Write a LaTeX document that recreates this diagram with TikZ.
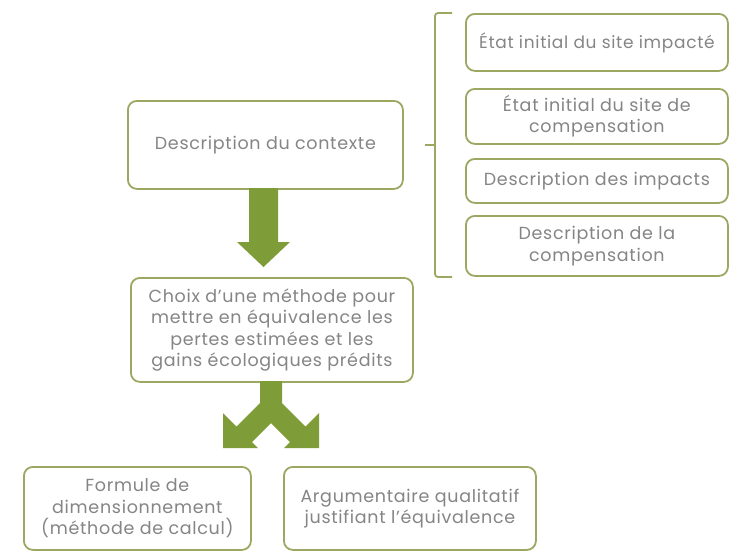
\documentclass[tikz,border=0pt]{standalone}
\usepackage{fontspec}
\setmainfont{Poppins}[LetterSpace=4]
\begin{document}
\begin{tikzpicture}[x=1pt,y=-1pt]
\definecolor{boxline}{HTML}{9AA862}
\definecolor{arrowfill}{HTML}{7E9D38}
\definecolor{txt}{HTML}{858585}
\tikzset{
  card/.style={draw=boxline, line width=1.8pt, rounded corners=9pt, fill=white,
    text=txt, align=center, font=\fontsize{17.5}{21.5}\selectfont, inner sep=0pt, anchor=north west},
  smallcard/.style={card, font=\fontsize{17}{21.5}\selectfont},
  bigarrow/.style={fill=arrowfill, draw=none}
}
\useasboundingbox (0,0) rectangle (729,552);
\fill[white] (0,0) rectangle (729,552);

% main boxes
\node[card, minimum width=275pt, minimum height=88pt] (ctx) at (127,100) {Description du contexte};
\node[card, minimum width=282pt, minimum height=104pt] (choix) at (130,277)
  {Choix d'une méthode pour\\mettre en équivalence les\\pertes estimées et les\\gains écologiques prédits};
\node[card, minimum width=227pt, minimum height=83pt] (formule) at (23,466)
  {Formule de\\dimensionnement\\(méthode de calcul)};
\node[card, minimum width=252pt, minimum height=83pt] (argu) at (283,466)
  {Argumentaire qualitatif\\justifiant l'équivalence};

% right boxes
\node[smallcard, minimum width=262pt, minimum height=57pt] (r1) at (465,13) {État initial du site impacté};
\node[card, minimum width=262pt, minimum height=55pt] (r2) at (465,88) {État initial du site de\\compensation};
\node[card, minimum width=262pt, minimum height=44pt] (r3) at (465,158) {Description des impacts};
\node[card, minimum width=262pt, minimum height=60pt] (r4) at (465,215) {Description de la\\compensation};

% bracket
\draw[boxline, line width=1.8pt, rounded corners=3pt] (452,13) -- (435,13) -- (435,277) -- (452,277);
\draw[boxline, line width=1.8pt] (425,145) -- (435,145);

% big down arrow
\fill[bigarrow] (249,188) -- (249,242) -- (237,242) -- (263.5,267) -- (290,242) -- (278,242) -- (278,188) -- cycle;

% split arrow
\fill[bigarrow] (260,381) -- (260,403) -- (236.5,426.5) -- (223,413) -- (223,448) -- (258,448)
  -- (252,442) -- (271,423) -- (290,442) -- (284,448) -- (319,448) -- (319,413)
  -- (305.5,426.5) -- (282,403) -- (282,381) -- cycle;
\end{tikzpicture}
\end{document}
